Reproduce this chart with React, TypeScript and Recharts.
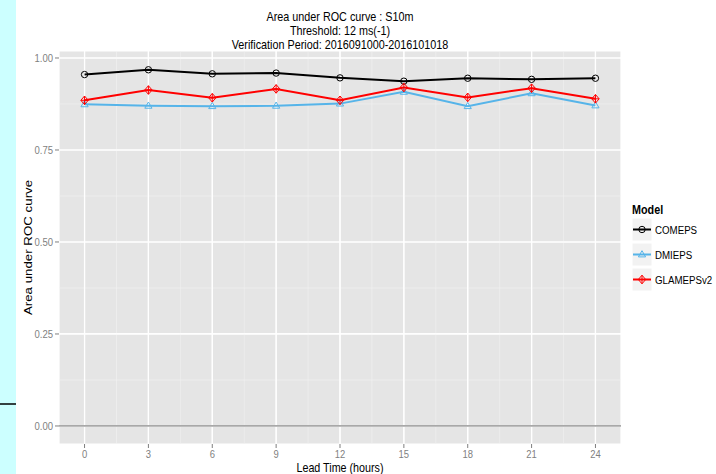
import React from "react";
import { LineChart, Line, XAxis, YAxis, CartesianGrid, ReferenceLine } from "recharts";

const leadTimes = [0, 3, 6, 9, 12, 15, 18, 21, 24];
const comeps = [0.955, 0.968, 0.957, 0.959, 0.946, 0.937, 0.945, 0.942, 0.945];
const dmieps = [0.874, 0.870, 0.869, 0.870, 0.876, 0.908, 0.869, 0.904, 0.871];
const glameps = [0.885, 0.913, 0.892, 0.916, 0.885, 0.920, 0.893, 0.918, 0.889];
const xTicks = [0, 3, 6, 9, 12, 15, 18, 21, 24];
const yTicks = [0, 0.25, 0.5, 0.75, 1];
const xMinor = [1.5, 4.5, 7.5, 10.5, 13.5, 16.5, 19.5, 22.5];
const yMinor = [0.125, 0.375, 0.625, 0.875];
const titleLines = [
  "Area under ROC curve : S10m",
  "Threshold: 12 ms(-1)",
  "Verification Period: 2016091000-2016101018",
];
const seriesNames = ["COMEPS", "DMIEPS", "GLAMEPSv2"];

const data = leadTimes.map((t, i) => ({
  t,
  COMEPS: comeps[i],
  DMIEPS: dmieps[i],
  GLAMEPSv2: glameps[i],
}));

const FONT = "'Liberation Sans', Arial, Helvetica, sans-serif";
const BLACK = "#000000";
const BLUE = "#56B4E9";
const RED = "#FF0000";

const NText = ({ x, y, size, sx = 0.83, anchor = "start", weight = "normal", fill = "#000", children }: any) => (
  <text
    transform={`translate(${x},${y}) scale(${sx},1)`}
    fontFamily={FONT}
    fontSize={size}
    fontWeight={weight}
    textAnchor={anchor}
    fill={fill}
  >
    {children}
  </text>
);

const circleMark = (cx: number, cy: number, k: any) => (
  <circle key={k} cx={cx} cy={cy} r={3.2} fill="none" stroke={BLACK} strokeWidth={1} />
);
const triMark = (cx: number, cy: number, k: any) => (
  <polygon
    key={k}
    points={`${cx},${cy - 3.8} ${cx - 3.6},${cy + 2.4} ${cx + 3.6},${cy + 2.4}`}
    fill="none"
    stroke={BLUE}
    strokeWidth={1}
  />
);
const diaMark = (cx: number, cy: number, k: any) => (
  <g key={k}>
    <polygon
      points={`${cx},${cy - 4.3} ${cx + 3.7},${cy} ${cx},${cy + 4.3} ${cx - 3.7},${cy}`}
      fill="none"
      stroke={RED}
      strokeWidth={1}
    />
    <line x1={cx} y1={cy - 4.3} x2={cx} y2={cy + 4.3} stroke={RED} strokeWidth={1} />
    <line x1={cx - 3.7} y1={cy} x2={cx + 3.7} y2={cy} stroke={RED} strokeWidth={1} />
  </g>
);

const marks = [circleMark, triMark, diaMark];
const colors = [BLACK, BLUE, RED];

const YTick = (props: any) => {
  const { x, y, payload } = props;
  return (
    <NText x={x} y={y + 4} size={11.5} anchor="end" fill="#7F7F7F">
      {Number(payload.value).toFixed(2)}
    </NText>
  );
};
const XTick = (props: any) => {
  const { x, y, payload } = props;
  return (
    <NText x={x} y={y + 7.5} size={11} sx={0.86} anchor="middle" fill="#7F7F7F">
      {String(payload.value)}
    </NText>
  );
};

export default function App() {
  return (
    <div style={{ position: "absolute", left: 0, top: 0, width: 716, height: 474, background: "#fff" }}>
      <LineChart
        width={716}
        height={474}
        data={data}
        margin={{ top: 51, right: 95, bottom: 0, left: 0 }}
      >
        <CartesianGrid fill="#E5E5E5" stroke="#FFFFFF" strokeWidth={1.2} />
        {xMinor.map((v) => (
          <ReferenceLine key={"xm" + v} x={v} stroke="#F2F2F2" strokeWidth={0.6} />
        ))}
        {yMinor.map((v) => (
          <ReferenceLine key={"ym" + v} y={v} stroke="#F2F2F2" strokeWidth={0.6} />
        ))}
        {xTicks.map((v) => (
          <ReferenceLine key={"xM" + v} x={v} stroke="#FFFFFF" strokeWidth={1.2} />
        ))}
        {yTicks.map((v) => (
          <ReferenceLine key={"yM" + v} y={v} stroke="#FFFFFF" strokeWidth={1.2} />
        ))}
        <ReferenceLine y={0} stroke="#A8A8A8" strokeWidth={1.8} />
        <XAxis
          dataKey="t"
          type="number"
          domain={[-1.2, 25.2]}
          ticks={xTicks}
          height={30}
          axisLine={false}
          tickSize={4}
          tickMargin={2}
          tickLine={{ stroke: "#7F7F7F" }}
          tick={<XTick />}
          interval={0}
          allowDataOverflow
        />
        <YAxis
          type="number"
          domain={[-0.049, 1.019]}
          ticks={yTicks}
          width={59}
          axisLine={false}
          tickSize={4}
          tickMargin={2}
          tickLine={{ stroke: "#7F7F7F" }}
          tick={<YTick />}
          interval={0}
          allowDataOverflow
        />
        {seriesNames.map((name, si) => (
          <Line
            key={name}
            dataKey={name}
            type="linear"
            stroke={colors[si]}
            strokeWidth={2}
            isAnimationActive={false}
            dot={(p: any) => marks[si](p.cx, p.cy, name + p.index)}
            activeDot={false}
          />
        ))}
      </LineChart>
      <svg
        width={716}
        height={474}
        style={{ position: "absolute", left: 0, top: 0, pointerEvents: "none" }}
      >
        <rect x={0} y={0} width={16} height={474} fill="#CCFFFF" />
        <line x1={0} y1={404} x2={16} y2={404} stroke="#000" strokeWidth={1.5} />
        {titleLines.map((s, i) => (
          <NText key={s} x={340} y={20.5 + i * 14} size={12} sx={0.9} anchor="middle">
            {s}
          </NText>
        ))}
        <NText x={340} y={472} size={12.5} sx={0.86} anchor="middle">
          Lead Time (hours)
        </NText>
        <text
          transform="translate(32,247.5) rotate(-90) scale(1,0.83)"
          fontFamily={FONT}
          fontSize={13.3}
          textAnchor="middle"
          fill="#000"
        >
          Area under ROC curve
        </text>
        <NText x={632} y={213.5} size={13} weight="bold">
          Model
        </NText>
        {seriesNames.map((name, i) => {
          const top = 218 + i * 25;
          const cy = top + 11.5;
          return (
            <g key={name}>
              <rect x={632} y={top} width={20} height={23} fill="#F2F2F2" stroke="#FFFFFF" strokeWidth={1} />
              <line x1={633} y1={cy} x2={651} y2={cy} stroke={colors[i]} strokeWidth={2} />
              {marks[i](642, cy, "lg" + i)}
              <NText x={655} y={cy + 4} size={11.7}>
                {name}
              </NText>
            </g>
          );
        })}
      </svg>
    </div>
  );
}
